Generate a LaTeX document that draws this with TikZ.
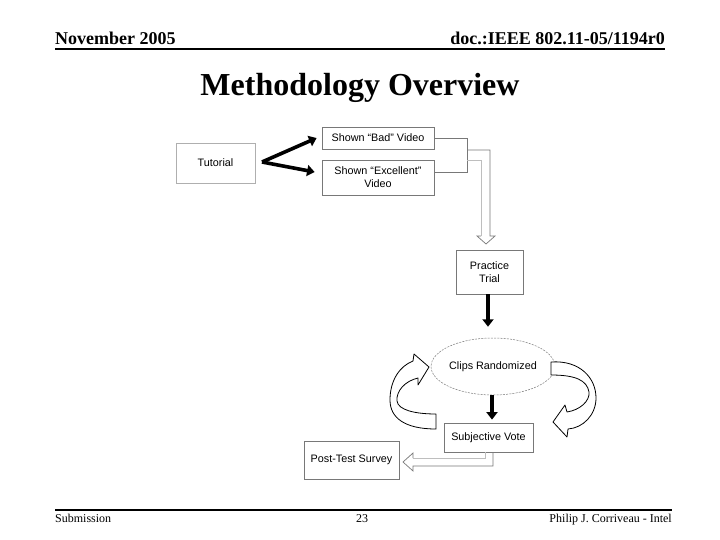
\documentclass[tikz,border=0pt]{standalone}
\usepackage{fontspec}
\setmainfont{Liberation Serif}
\newfontfamily\arialf{Liberation Sans}
\usetikzlibrary{shapes.geometric,arrows.meta,calc}
\definecolor{boxgray}{RGB}{120,120,120}
\definecolor{lightbox}{RGB}{175,175,175}
\definecolor{paleline}{RGB}{190,190,190}
\begin{document}
\begin{tikzpicture}[x=1pt,y=-1pt,
  box/.style={draw=boxgray,line width=0.8pt,fill=white,inner sep=0pt,align=center,
    font=\arialf\fontsize{10.8}{13}\selectfont},
  thickarrow/.style={line width=3.6pt,-{Triangle[length=7.5pt,width=11pt]}},
  hollow/.style={draw=boxgray,line width=0.7pt,line join=miter},
  curvy/.style={draw=black,line width=0.8pt,fill=white,line join=round},
  hdr/.style={font=\fontsize{18}{20}\selectfont\bfseries,inner sep=0pt},
  ftr/.style={font=\fontsize{12}{14}\selectfont,inner sep=0pt}]
\fill[white] (0,0) rectangle (720,540);
\useasboundingbox (0,0) rectangle (720,540);

% header and footer
\node[hdr,anchor=base west] (hl) at (55,45) {November 2005};
\node[hdr,anchor=base east] (hr) at (665,45) {doc.:IEEE 802.11-05/1194r0};
\draw[line width=2pt] (55,49) -- (665,49);
\node[font=\fontsize{32}{36}\selectfont\bfseries,inner sep=0pt,anchor=base] (title) at (360,96) {Methodology Overview};
\draw[line width=2pt] (55,510) -- (672,510);
\node[ftr,anchor=base west] (fl) at (55,522) {Submission};
\node[ftr,anchor=base] (fc) at (362,522) {23};
\node[ftr,anchor=base east] (fr) at (672,522) {Philip J. Corriveau - Intel};

% nodes
\node[box,draw=lightbox,minimum width=79pt,minimum height=40pt] (tut) at (215.5,163) {Tutorial};
\node[box,minimum width=112pt,minimum height=22pt] (bad) at (378,138) {Shown “Bad” Video};
\node[box,minimum width=112pt,minimum height=35pt] (exc) at (378,177.5) {Shown “Excellent”\\Video};
\node[box,minimum width=67pt,minimum height=44pt] (prac) at (489.5,272) {Practice\\Trial};
\node[ellipse,draw=boxgray,dashed,dash pattern=on 2pt off 1.2pt,line width=0.5pt,inner sep=0pt,
  minimum width=110pt,minimum height=57pt,font=\arialf\fontsize{10.8}{13}\selectfont] (clips) at (493,366.5) {Clips Randomized};
\node[box,minimum width=89pt,minimum height=29pt] (vote) at (488.5,437.5) {Subjective Vote};
\node[box,minimum width=95pt,minimum height=38pt] (post) at (351.5,460) {Post-Test Survey};

% tutorial arrows
\coordinate (tv) at (262,162);
\draw[thickarrow] (tv) -- ($(bad.west)+(-5,0)$);
\draw[thickarrow] (tv) -- ($(exc.west)+(-7,-5.5)$);

% lines joining the two video boxes
\draw[boxgray,line width=0.7pt] (bad.east) -- (467,138) -- (467,172) -- ($(exc.east)+(0,-5.5)$);

% hollow arrow to practice trial
\draw[hollow] (467,150) -- (490,150) -- (490,236) -- (495,236) -- (486,244) -- (477,236) -- (481,236);
\draw[paleline,line width=0.7pt] (481,236) -- (481,160) -- (467,160);

% thick arrows down the middle
\draw[thickarrow] ($(prac.south)+(-1.5,0)$) -- ($(prac.south |- clips.north)+(-1.5,-11)$);
\draw[thickarrow] ($(clips.south)+(-1,0)$) -- ($(clips.south |- vote.north)+(-1,-3)$);

% hollow arrow to post-test survey
\draw[hollow] ($(vote.south)+(4.5,0)$) -- (493,466) -- (413,466) -- (413,471) -- (403,462) -- (413,453) -- (413,458);
\draw[paleline,line width=0.7pt] (413,458) -- (485,458) -- ($(vote.south)+(-3.5,0)$);

% curved loop arrows
\draw[curvy] (436,429) .. controls (405,429) and (390,418) .. (390,400)
  .. controls (390,380) and (400,366) .. (413,361) -- (414,354) -- (429,367) -- (418,385) -- (418,378)
  .. controls (405,381) and (396,391) .. (397,401)
  .. controls (398,410) and (415,414) .. (436,414) -- cycle;
\draw[curvy] (551,362) .. controls (580,360) and (596,378) .. (596,398)
  .. controls (596,415) and (583,428) .. (568,429) -- (567,437) -- (553,422) -- (565,405) -- (567,412)
  .. controls (580,410) and (590,401) .. (589,392)
  .. controls (587,380) and (575,375) .. (551,375) -- cycle;
\end{tikzpicture}
\end{document}
